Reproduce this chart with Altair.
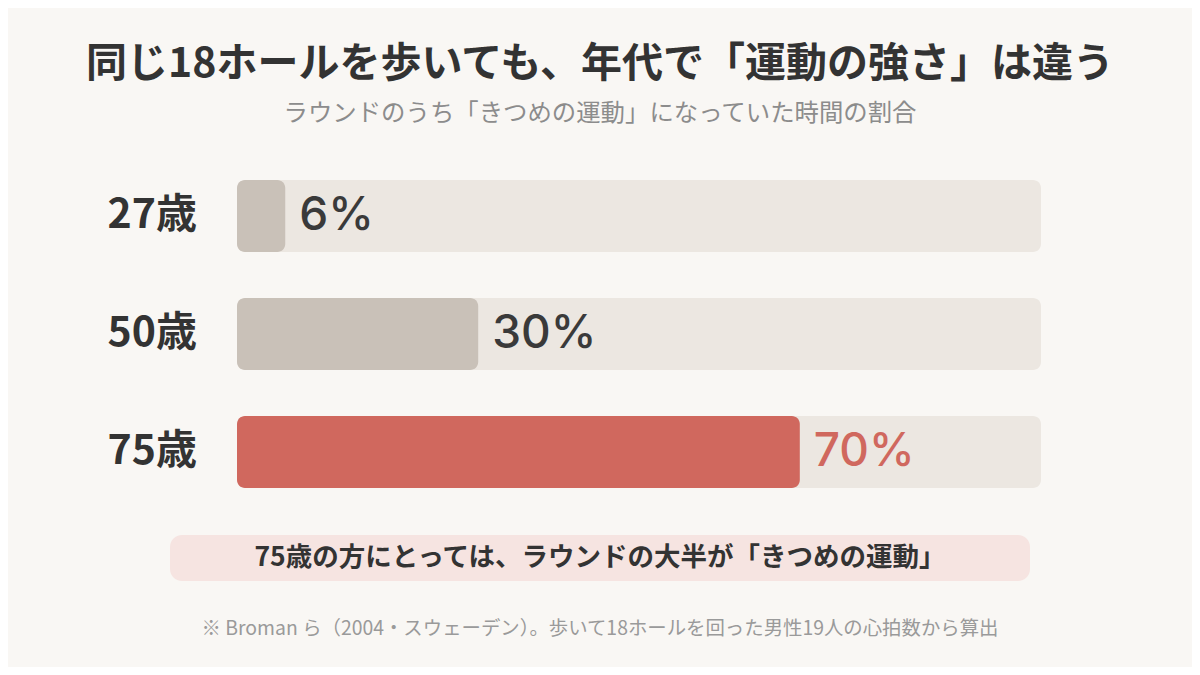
import altair as alt
import pandas as pd

# chart values
ages = ["27歳", "50歳", "75歳"]
shares = [6, 30, 70]
bar_colors = ["#c9c1b8", "#c9c1b8", "#d0685e"]
label_colors = ["#3a3a3a", "#3a3a3a", "#d0685e"]

title_text = "同じ18ホールを歩いても、年代で「運動の強さ」は違う"
subtitle_text = "ラウンドのうち「きつめの運動」になっていた時間の割合"
callout_text = "75歳の方にとっては、ラウンドの大半が「きつめの運動」"
note_text = "※ Broman ら（2004・スウェーデン）。歩いて18ホールを回った男性19人の心拍数から算出"

FONT = "Noto Sans CJK JP"
W, H = 1184, 659

df = pd.DataFrame({
    "age": ages,
    "share": shares,
    "label": [f"{v}%" for v in shares],
    "bar_color": bar_colors,
    "label_color": label_colors,
})

x_scale = alt.Scale(domain=[0, 100], range=[229, 1033])
y_scale = alt.Scale(domain=ages, range=[172, 480], paddingInner=0.39, paddingOuter=0)

base = alt.Chart(df).transform_calculate(zero="0", full="100")

track = base.mark_bar(cornerRadius=8, color="#ece7e1").encode(
    x=alt.X("zero:Q", scale=x_scale, axis=None),
    x2="full:Q",
    y=alt.Y("age:N", scale=y_scale, axis=None),
)

bars = base.mark_bar(cornerRadius=8).encode(
    x=alt.X("zero:Q", scale=x_scale, axis=None),
    x2="share:Q",
    y=alt.Y("age:N", scale=y_scale, axis=None),
    color=alt.Color("bar_color:N", scale=None, legend=None),
)

values = base.mark_text(
    align="left", baseline="middle", dx=14, font="Inter", fontSize=46, fontWeight=500
).encode(
    x=alt.X("share:Q", scale=x_scale, axis=None),
    y=alt.Y("age:N", scale=y_scale, axis=None),
    text="label:N",
    color=alt.Color("label_color:N", scale=None, legend=None),
)

row_labels = base.mark_text(
    align="right", baseline="middle", font=FONT, fontSize=41, fontWeight="bold", color="#333333"
).encode(
    x=alt.value(189),
    y=alt.Y("age:N", scale=y_scale, axis=None),
    text="age:N",
)


def text_layer(txt, y, size, weight, color):
    return alt.Chart(pd.DataFrame({"t": [txt]})).mark_text(
        align="center", baseline="middle", font=FONT, fontSize=size,
        fontWeight=weight, color=color
    ).encode(x=alt.value(592), y=alt.value(y), text="t:N")


callout_box = alt.Chart(pd.DataFrame({"t": [callout_text]})).mark_rect(
    cornerRadius=12, color="#f6e4e1"
).encode(x=alt.value(162), x2=alt.value(1022), y=alt.value(527), y2=alt.value(573))

chart = alt.layer(
    track,
    bars,
    values,
    row_labels,
    text_layer(title_text, 57, 41, "bold", "#333333"),
    text_layer(subtitle_text, 106, 24.4, "normal", "#8c8c8c"),
    callout_box,
    text_layer(callout_text, 550, 26.5, "bold", "#333333"),
    text_layer(note_text, 621, 19.4, "normal", "#9a9a9a"),
).properties(
    width=W,
    height=H,
    autosize=alt.AutoSizeParams(type="none"),
    padding=0,
    background="#f9f7f4",
).configure_view(stroke=None)

chart.save("out.html", embed_options={"renderer": "svg", "actions": False})
